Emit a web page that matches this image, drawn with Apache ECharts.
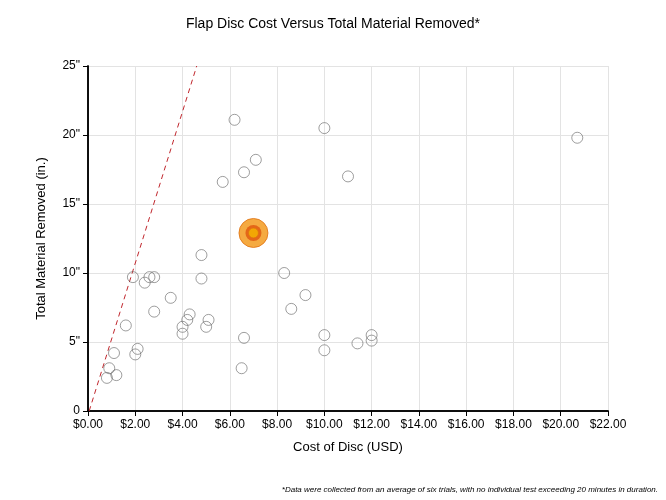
<!DOCTYPE html>
<html><head><meta charset="utf-8">
<script src="https://cdn.jsdelivr.net/npm/echarts@6/dist/echarts.min.js"></script>
<style>html,body{margin:0;padding:0;background:#fff}#c{width:666px;height:500px}</style>
</head><body><div id="c"></div>
<script>
const costs = [0.8,0.9,1.1,1.2,1.6,1.9,2.0,2.1,2.4,2.6,2.8,2.8,3.5,4.0,4.0,4.2,4.3,4.8,4.8,5.0,5.1,6.2,5.7,6.5,6.6,6.6,7.1,8.3,8.6,9.2,10.0,10.0,10.0,11.0,11.4,12.0,12.0,20.7];
const removed = [2.4,3.1,4.2,2.6,6.2,9.7,4.1,4.5,9.3,9.7,9.7,7.2,8.2,5.6,6.1,6.6,7.0,11.3,9.6,6.1,6.6,21.1,16.6,3.1,5.3,17.3,18.2,10.0,7.4,8.4,20.5,5.5,4.4,17.0,4.9,5.5,5.1,19.8];
const highlight = [7.0, 12.9];
const refLine = [[0.05,0],[4.6,25]];
const font = 'Helvetica, Arial, "Liberation Sans", sans-serif';
const frameAxis = {min:0,axisLine:{show:true,lineStyle:{color:'#000',width:1.5}},axisTick:{show:false},axisLabel:{show:false},splitLine:{show:false}};
const chart = echarts.init(document.getElementById('c'));
chart.setOption({
  animation:false,
  title:{text:'Flap Disc Cost Versus Total Material Removed*',left:'center',top:12,textStyle:{fontFamily:font,fontSize:14,fontWeight:'normal',color:'#000'}},
  graphic:[{type:'text',right:8,top:486,style:{text:'*Data were collected from an average of six trials, with no individual test exceeding 20 minutes in duration.',font:'italic 8px '+font,fill:'#000'}}],
  grid:{left:88,right:58,top:66,bottom:89},
  xAxis:[{type:'value',min:0,max:22,interval:2,name:'Cost of Disc (USD)',nameLocation:'middle',nameGap:30,
    nameTextStyle:{fontFamily:font,fontSize:13,color:'#000'},
    axisLine:{show:true,lineStyle:{color:'#000',width:1.5}},axisTick:{show:true,length:5,lineStyle:{color:'#000'}},
    axisLabel:{fontFamily:font,fontSize:12,color:'#000',formatter:v=>'$'+v.toFixed(2)},
    splitLine:{show:true,lineStyle:{color:'#e3e3e3'}}},
    Object.assign({type:'value',position:'top',max:22},frameAxis)],
  yAxis:[{type:'value',min:0,max:25,interval:5,name:'Total Material Removed (in.)',nameLocation:'middle',nameGap:40,
    nameTextStyle:{fontFamily:font,fontSize:13,color:'#000'},
    axisLine:{show:true,lineStyle:{color:'#000',width:1.5}},axisTick:{show:true,length:5,lineStyle:{color:'#000'}},
    axisLabel:{fontFamily:font,fontSize:12,color:'#000',formatter:v=>v===0?'0':v+'"'},
    splitLine:{show:true,lineStyle:{color:'#e3e3e3'}}},
    Object.assign({type:'value',position:'right',max:25},frameAxis)],
  series:[
    {type:'line',data:refLine,symbol:'none',lineStyle:{color:'#c0272d',type:[5,4],width:1},z:1},
    {type:'scatter',data:costs.map((c,i)=>[c,removed[i]]),symbolSize:11,itemStyle:{color:'rgba(255,255,255,0)',borderColor:'#666',borderWidth:0.8},z:3},
    {type:'scatter',data:[highlight],symbolSize:29,itemStyle:{color:'#f39512',borderColor:'#e07010',borderWidth:1},z:4},
    {type:'scatter',data:[highlight],symbolSize:16,itemStyle:{color:'#e0560f'},z:5},
    {type:'scatter',data:[highlight],symbolSize:10,itemStyle:{color:'#f5b800',borderColor:'#e07010',borderWidth:1},z:6}
  ]
});
</script></body></html>
